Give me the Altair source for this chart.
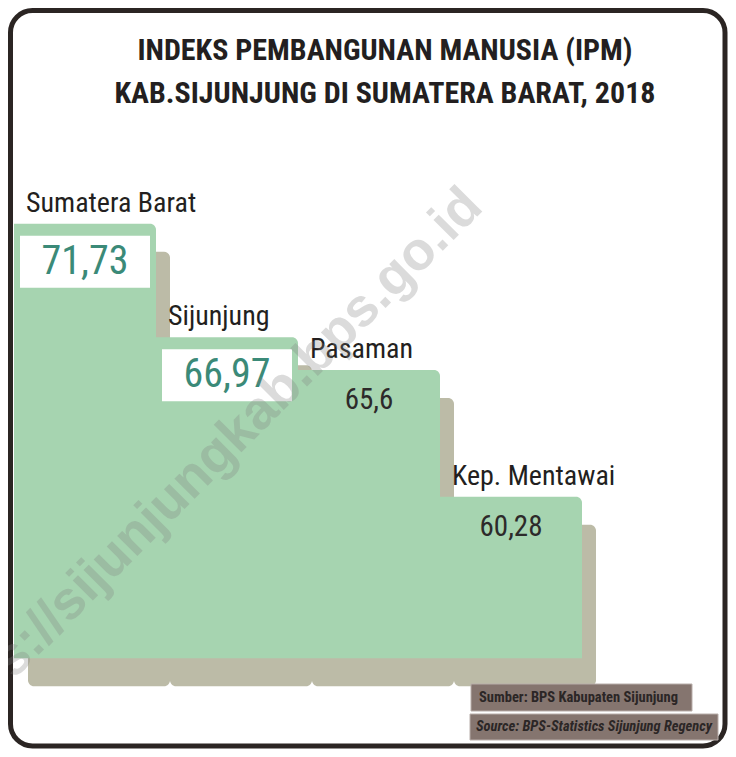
import altair as alt
import pandas as pd

# ---- data ----
categories = ["Sumatera Barat", "Sijunjung", "Pasaman", "Kep. Mentawai"]
values = [71.73, 66.97, 65.6, 60.28]
boxed = ["Sumatera Barat", "Sijunjung"]
title_lines = ["INDEKS PEMBANGUNAN MANUSIA (IPM)", "KAB.SIJUNJUNG DI SUMATERA BARAT, 2018"]
source_lines = ["Sumber: BPS Kabupaten Sijunjung", "Source: BPS-Statistics Sijunjung Regency"]
watermark = "https://sijunjungkab.bps.go.id"

df = pd.DataFrame({"cat": categories, "value": values})

W, H = 720, 741
BASE = 53.5
COND = "'Roboto Condensed', 'Roboto'"

xs = alt.Scale(domain=categories, range=[6, 574], paddingInner=0, paddingOuter=0)
ys = alt.Scale(domain=[49.69, 80.79], zero=False, nice=False)
x_band = alt.X("cat:N", scale=xs, axis=None, sort=categories)
y_val = alt.Y("value:Q", scale=ys, axis=None)

base = alt.Chart(df)

one = pd.DataFrame({"k": [0]})
frame = alt.Chart(one).mark_rect(
    fill="white", stroke="#2b2523", strokeWidth=5, cornerRadius=22
).encode(x=alt.value(2.5), x2=alt.value(717), y=alt.value(2.5), y2=alt.value(738))

shadow = base.mark_bar(
    color="#bcbba7", cornerRadius=6, xOffset=14, x2Offset=14, yOffset=28, y2Offset=28
).encode(x=x_band, y=y_val, y2=alt.datum(BASE))

bars = base.mark_bar(color="#a6d4b0", cornerRadiusTopRight=6).encode(
    x=x_band, y=y_val, y2=alt.datum(BASE)
)

labels = base.mark_text(
    align="left", baseline="alphabetic", dx=12, dy=-12,
    font=COND, fontSize=28, color="#231f20"
).encode(
    x=alt.X("cat:N", scale=xs, axis=None, sort=categories, bandPosition=0),
    y=y_val, text="cat:N"
)

fmt = "replace(toString(datum.value), '.', ',')"

boxes = base.transform_filter(
    alt.FieldOneOfPredicate(field="cat", oneOf=boxed)
).mark_point(
    shape="M-1,-0.4H1V0.4H-1Z", size=16900, filled=True, color="white",
    opacity=1, strokeWidth=0, yOffset=38
).encode(x=x_band, y=y_val)

vals_boxed = base.transform_filter(
    alt.FieldOneOfPredicate(field="cat", oneOf=boxed)
).transform_calculate(lbl=fmt).mark_text(
    font=COND, fontSize=40, color="#3b8a78", align="center",
    baseline="middle", dy=38
).encode(x=x_band, y=y_val, text="lbl:N")

vals_plain = base.transform_filter(
    {"not": alt.FieldOneOfPredicate(field="cat", oneOf=boxed)}
).transform_calculate(lbl=fmt).mark_text(
    font=COND, fontSize=29, color="#2d2a2a", align="center",
    baseline="middle", dy=30
).encode(x=x_band, y=y_val, text="lbl:N")

def title_text(line, ypos):
    return alt.Chart(pd.DataFrame({"t": [line]})).mark_text(
        font=COND, fontSize=30, fontWeight="bold", color="#231f20",
        align="center", baseline="alphabetic"
    ).encode(x=alt.value(377), y=alt.value(ypos), text="t:N")

title1 = title_text(title_lines[0], 52)
title2 = title_text(title_lines[1], 95)

src_box1 = alt.Chart(one).mark_rect(fill="#85756f", stroke="#b8aeaa", strokeWidth=1).encode(
    x=alt.value(463), x2=alt.value(684), y=alt.value(676), y2=alt.value(703))
src_box2 = alt.Chart(one).mark_rect(fill="#85756f", stroke="#b8aeaa", strokeWidth=1).encode(
    x=alt.value(462), x2=alt.value(710), y=alt.value(706), y2=alt.value(732))

src_t1 = alt.Chart(pd.DataFrame({"t": [source_lines[0]]})).mark_text(
    font=COND, fontSize=14.5, fontWeight="bold", color="#2b2626",
    align="left", baseline="middle"
).encode(x=alt.value(471), y=alt.value(690), text="t:N")
src_t2 = alt.Chart(pd.DataFrame({"t": [source_lines[1]]})).mark_text(
    font=COND, fontSize=14.5, fontWeight="bold", fontStyle="italic", color="#2b2626",
    align="left", baseline="middle"
).encode(x=alt.value(468), y=alt.value(719), text="t:N")

wm = alt.Chart(pd.DataFrame({"t": [watermark]})).mark_text(
    font="Liberation Sans", fontWeight="bold", fontSize=54, color="#808080",
    opacity=0.28, angle=315, align="center", baseline="middle"
).encode(x=alt.value(194), y=alt.value(461), text="t:N")

chart = alt.layer(
    frame, shadow, bars, labels, boxes, vals_boxed, vals_plain,
    title1, title2, src_box1, src_box2, src_t1, src_t2, wm
).properties(
    width=W, height=H, padding=0, autosize=alt.AutoSizeParams(type="none"),
    background="white"
).configure_view(strokeWidth=0)

chart.save("out.html", embed_options={"renderer": "svg", "actions": False})
